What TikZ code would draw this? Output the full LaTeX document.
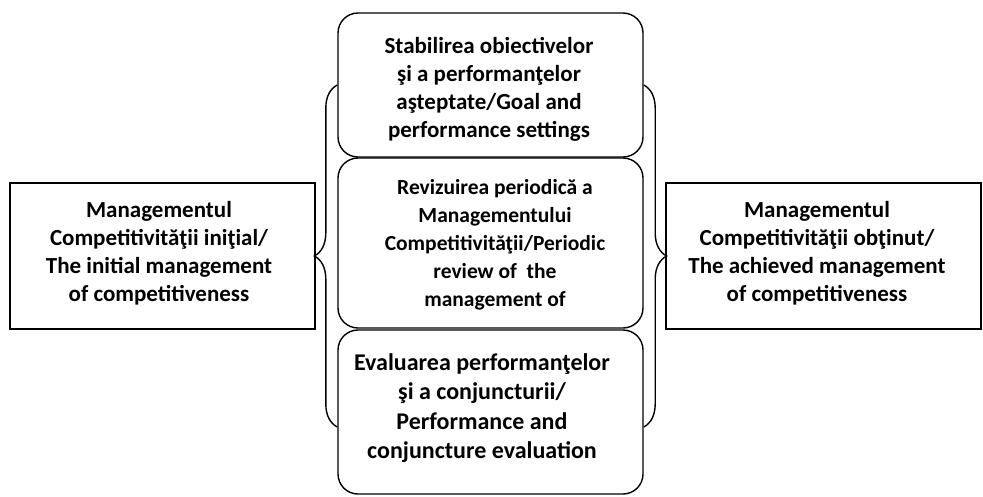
\documentclass[tikz,border=0pt]{standalone}
\usepackage{fontspec}
\setmainfont{Carlito}
\usetikzlibrary{decorations.pathreplacing}
\begin{document}
\begin{tikzpicture}[x=1pt,y=-1pt,
  line width=1.4pt,
  txt/.style={font=\bfseries\fontsize{23}{28}\selectfont, align=center, text=black, inner sep=0pt},
  sidebox/.style={draw, rectangle, minimum width=305pt, minimum height=146pt, inner sep=0pt},
  stagebox/.style={draw, rounded corners=20pt, minimum width=305pt, inner sep=0pt},
  bracket/.style={decorate, decoration={brace, amplitude=23pt}, line width=1.4pt}]
\useasboundingbox (0,0) rectangle (983,496);

% outer boxes
\node[sidebox] (init) at (162.5,256) {};
\node[sidebox, minimum width=315pt] (ach) at (823.5,256) {};
\node[txt] (initT) at (159,253.5) {Managementul\\Competitivităţii iniţial/\\The initial management\\of competitiveness};
\node[txt] (achT) at (817,253.5) {Managementul\\Competitivităţii obţinut/\\The achieved management\\of competitiveness};

% stacked stages
\node[stagebox, minimum height=144pt] (goal) at (490.5,85) {};
\node[stagebox, minimum height=170pt] (rev) at (490.5,243) {};
\node[stagebox, minimum height=164pt] (eval) at (490.5,412) {};

\node[txt] (goalT) at (489,89.5) {Stabilirea obiectivelor\\şi a performanţelor\\aşteptate/Goal and\\performance settings};
\node[txt, font=\bfseries\fontsize{21.5}{28}\selectfont] (revT) at (495,245) {Revizuirea periodică a\\Managementului\\Competitivităţii/Periodic\\review of~ the\\management of};
\node[txt, font=\bfseries\fontsize{24}{29.5}\selectfont] (evalT) at (482,408) {Evaluarea performanţelor\\şi a conjuncturii/\\Performance and\\conjuncture evaluation};

% brace end points on the stage column
\coordinate (lt) at (goal.west |- 0,85);
\coordinate (lb) at (eval.west |- 0,427);
\coordinate (rt) at (goal.east |- 0,85);
\coordinate (rb) at (eval.east |- 0,427);

\draw[bracket] (lb) -- (lt);
\draw[bracket] (rt) -- (rb);
\end{tikzpicture}
\end{document}
